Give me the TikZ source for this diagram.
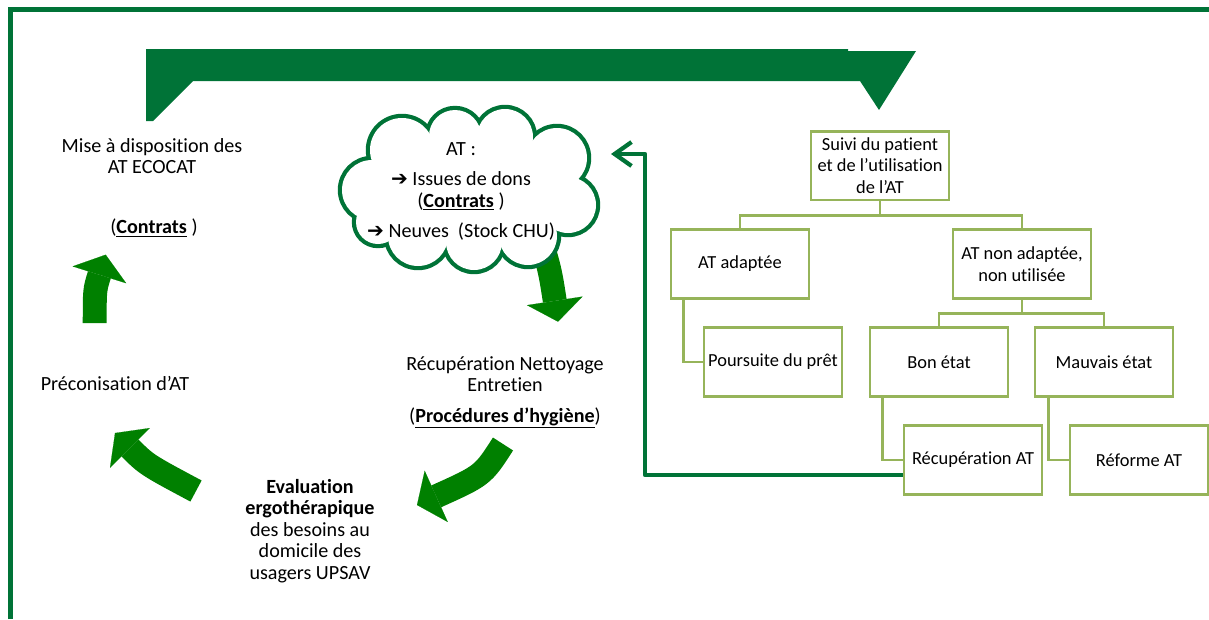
\documentclass[tikz,border=0pt]{standalone}
\usepackage{fontspec}
\setmainfont{Carlito}[Ligatures={TeX,NoCommon}]
\newfontfamily\symfont{DejaVu Sans}
\usetikzlibrary{positioning, arrows.meta, calc}

\definecolor{framegreen}{RGB}{0,115,55}
\definecolor{blockgreen}{RGB}{0,128,0}
\definecolor{treegreen}{RGB}{150,180,90}

\tikzset{
  treebox/.style={draw=treegreen, line width=2pt, minimum width=3.45cm, minimum height=1.72cm,
    align=center, inner sep=1pt, font=\fontsize{13.1}{15.2}\selectfont},
  treeline/.style={draw=treegreen, line width=2pt},
  cycletext/.style={align=center, font=\fontsize{14.3}{15.4}\selectfont},
  bigarrow/.style={blockgreen, line width=17pt,
    -{Triangle[width=40pt, length=15pt, line width=0.1pt]}},
}
% puffs of the stock cloud: x/y/radius
\newcommand{\stockpuffs}{372/190/30, 402/150/32, 455/136/26, 505/137/28, 557/158/30,
  568/205/28, 528/236/29, 474/242/28, 418/236/30, 378/222/22}

\begin{document}
\begin{tikzpicture}[x=0.025cm, y=-0.025cm]
  \useasboundingbox (0,0) rectangle (1209,619);

  % frame and top arrow
  \draw[framegreen, line width=3pt] (10.5,619) -- (10.5,9.5) -- (1209,9.5);
  \fill[framegreen] (146,49) -- (848,49) -- (848,51) -- (916,51) -- (879,110)
    -- (860,81) -- (193,81) -- (153,121) -- (146,121) -- cycle;

  % cycle texts
  \node[cycletext] (mise) at (152,156) {Mise à disposition des\\AT ECOCAT};
  \node[cycletext] (contrats) at (154,228) {(\underline{\textbf{Contrats}} )};
  \node[cycletext] (precon) at (115,383) {Préconisation d’AT};
  \node[cycletext] (eval) at (310,531)
    {\textbf{Evaluation}\\\textbf{ergothérapique}\\des besoins au\\domicile des\\usagers UPSAV};
  \node[cycletext] (nettoyage) at (505,374) {Récupération Nettoyage\\Entretien};
  \node[cycletext] (hygiene) at (505,418) {(\underline{\textbf{Procédures d’hygiène}})};

  % block arrows of the cycle
  \coordinate (a1s) at (94.7,323);   \coordinate (a1e) at (105.7,254.7);
  \coordinate (a2s) at (196,491);    \coordinate (a2e) at (115,433);
  \coordinate (a3s) at (503,444);    \coordinate (a3e) at (417,505);
  \coordinate (a4s) at (538,230);    \coordinate (a4e) at (558,321.7);
  \draw[bigarrow] (a1s) .. controls (94.7,289.7) .. (a1e);
  \draw[bigarrow] (a2s) .. controls (146.7,464.7) .. (a2e);
  \draw[bigarrow] (a3s) .. controls (482.8,475.4) .. (a3e);
  \draw[bigarrow] (a4s) .. controls (550,270) .. (a4e);

  % stock cloud
  \foreach \cx/\cy/\r in \stockpuffs
    \draw[framegreen, line width=6pt] (\cx,\cy) circle[radius=\r];
  \foreach \cx/\cy/\r in \stockpuffs
    \fill[white] (\cx,\cy) circle[radius=\r];
  \fill[white] (372,190) -- (402,150) -- (455,136) -- (505,137) -- (557,158)
    -- (568,205) -- (528,236) -- (474,242) -- (418,236) -- (378,222) -- cycle;
  \node[cycletext] (stock) at (461,191.5)
    {AT :\\[6pt]{\symfont ➔} Issues de dons\\(\underline{\textbf{Contrats}} )\\[6pt]{\symfont ➔} Neuves\ \ (Stock CHU)};

  % follow-up tree
  \node[treebox] (suivi) at (880,165.5) {Suivi du patient\\et de l'utilisation\\de l'AT};
  \node[treebox] (adaptee) at (740,264) {AT adaptée};
  \node[treebox] (nonadaptee) at (1022,264) {AT non adaptée,\\non utilisée};
  \node[treebox] (poursuite) at (773,362) {Poursuite du prêt};
  \node[treebox] (bonetat) at (939,362) {Bon état};
  \node[treebox] (mauvais) at (1104,362) {Mauvais état};
  \node[treebox] (recup) at (973,460) {Récupération AT};
  \node[treebox] (reforme) at (1139,460) {Réforme AT};

  \draw[treeline] (suivi.south) -- ++(0,14.5) -| (adaptee.north);
  \draw[treeline] (suivi.south) -- ++(0,14.5) -| (nonadaptee.north);
  \draw[treeline] (nonadaptee.south) -- ++(0,14) -| (bonetat.north);
  \draw[treeline] (nonadaptee.south) -- ++(0,14) -| (mauvais.north);
  \draw[treeline] ([xshift=0.35cm]adaptee.south west) |- (poursuite.west);
  \draw[treeline] ([xshift=0.35cm]bonetat.south west) |- (recup.west);
  \draw[treeline] ([xshift=0.375cm]mauvais.south west) |- (reforme.west);

  % back to the stock
  \coordinate (retour) at (611,154);
  \draw[framegreen, line width=3pt, line join=round,
    -{Straight Barb[length=12pt, width=17pt]}]
    ([yshift=-0.375cm]recup.west) -| (645,154) -- (retour);
\end{tikzpicture}
\end{document}
